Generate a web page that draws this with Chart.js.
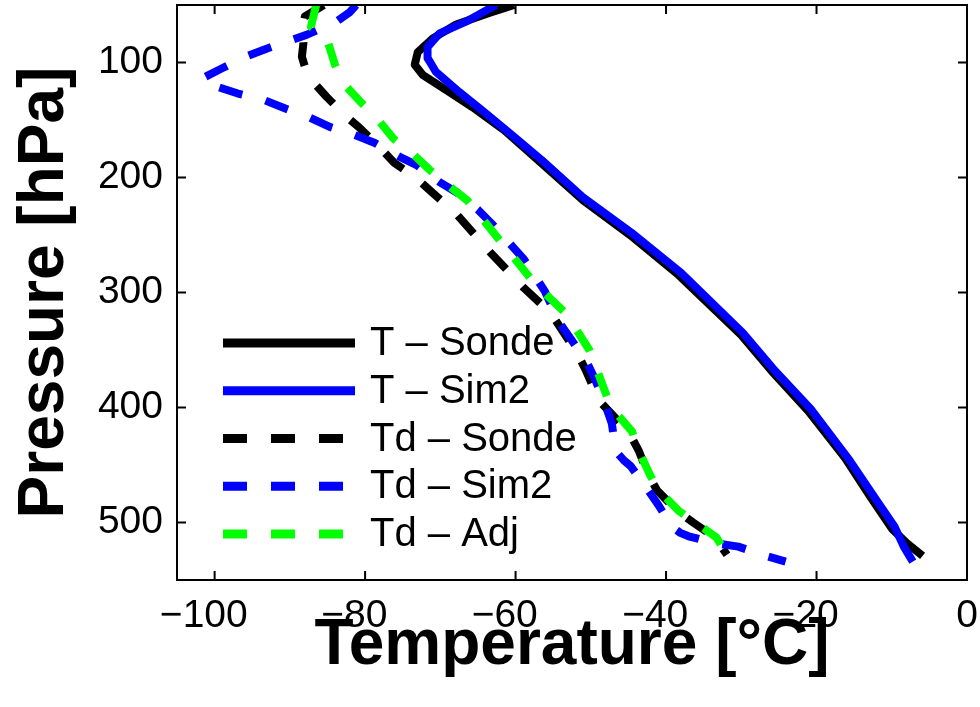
<!DOCTYPE html>
<html>
<head>
<meta charset="utf-8">
<script src="https://cdn.jsdelivr.net/npm/chart.js@4.4.1/dist/chart.umd.min.js"></script>
<style>
html, body { margin: 0; padding: 0; background: #fff; }
</style>
</head>
<body>
<canvas id="c" width="980" height="707"></canvas>
<script>
// T - Sonde
var tSondeP = [50, 57, 67, 79, 91, 102, 111, 124, 139, 159, 185, 220, 250, 285, 337, 368, 403, 444, 478, 506, 518, 529];
var tSondeT = [-60.2, -63.5, -67.9, -71.0, -73.0, -73.4, -72.3, -69.2, -65.7, -61.5, -57.0, -51.0, -44.8, -38.3, -30.0, -26.0, -21.1, -16.2, -12.8, -9.9, -8.0, -5.9];
// T - Sim2
var tSimP = [50, 64.5, 74.7, 86.5, 96, 108, 125.6, 144, 165.7, 185, 217, 248, 283, 335, 366, 401, 446, 478, 504, 521, 534];
var tSimT = [-62.6, -66.6, -70.1, -71.7, -71.7, -70.6, -67.5, -64.0, -60.0, -56.5, -51.1, -44.6, -38.0, -29.8, -25.8, -20.8, -15.6, -12.3, -9.6, -8.4, -7.2];
// Td - Sonde
var tdSondeP = [50, 60, 70, 83, 95, 108, 117, 130, 147, 157, 173.5, 187.4, 200.4, 213.5, 230, 267, 296, 318, 353, 367, 394, 422, 438, 459, 472, 490, 500, 513, 528];
var tdSondeT = [-85.5, -88.0, -88.3, -88.2, -88.4, -87.8, -86.9, -85.1, -82.5, -80.7, -78.1, -76.1, -73.2, -71.0, -68.1, -63.1, -58.9, -55.3, -51.8, -50.7, -48.9, -44.9, -43.6, -42.3, -41.2, -38.5, -36.4, -33.5, -31.9];
// Td - Sim2
var tdSimP = [50, 56, 64.5, 76, 80, 88, 95, 105, 114, 121, 127, 133, 140, 148, 156, 163, 170, 182, 189, 204, 213.5, 228, 240, 271, 299, 326, 340, 361, 376, 399, 414, 438, 446, 451, 469, 485, 504, 509, 512, 518, 521, 529, 534];
var tdSimT = [-81.2, -82.0, -83.8, -87.8, -89.6, -93.1, -95.9, -99.0, -101.7, -99.7, -96.9, -93.3, -90.6, -87.3, -84.7, -81.4, -78.7, -75.4, -73.2, -70.1, -67.7, -65.0, -63.2, -58.9, -56.1, -54.2, -52.7, -50.5, -49.4, -48.0, -47.2, -46.7, -45.6, -44.7, -42.7, -41.0, -39.2, -38.1, -37.0, -33.5, -30.4, -26.7, -24.1];
// Td - Adj
var tdAdjP = [50, 69, 79, 102, 118, 135, 148, 165.7, 178, 193.5, 205, 220, 232.6, 258, 292.6, 317, 324, 350, 360, 388, 399, 421, 434, 459, 472, 490, 500, 513, 526, 530];
var tdAdjT = [-86.5, -87.2, -85.1, -84.0, -82.9, -80.5, -78.5, -76.3, -73.9, -71.4, -69.3, -66.4, -64.8, -61.7, -57.4, -53.5, -52.7, -50.2, -49.6, -48.0, -47.4, -44.5, -43.9, -42.1, -41.0, -38.3, -36.1, -33.3, -32.1, -32.2];

var labels = ['T \u2013 Sonde', 'T \u2013 Sim2', 'Td \u2013 Sonde', 'Td \u2013 Sim2', 'Td \u2013 Adj'];
var xTicks = [-100, -80, -60, -40, -20, 0];
var yTicks = [100, 200, 300, 400, 500];

var FONT = '"Liberation Sans", Arial, Helvetica, sans-serif';

function pts(t, p) {
    var out = [];
    for (var i = 0; i < t.length; i++) out.push({ x: t[i], y: p[i] });
    return out;
}

function series(label, t, p, color, dashed, order) {
    return {
        label: label,
        data: pts(t, p),
        showLine: true,
        borderColor: color,
        backgroundColor: color,
        borderWidth: 8,
        borderDash: dashed ? [24, 24] : [],
        borderCapStyle: 'butt',
        borderJoinStyle: 'round',
        pointRadius: 0,
        tension: 0,
        clip: 0,
        order: order
    };
}

// box, inward ticks and the legend inside the axes
var boxPlugin = {
    id: 'box',
    afterDatasetsDraw: function(chart) {
        var ctx = chart.ctx, a = chart.chartArea;
        var xs = chart.scales.x, ys = chart.scales.y;
        ctx.save();
        ctx.setLineDash([]);
        ctx.strokeStyle = '#000';
        ctx.lineWidth = 2;
        ctx.beginPath();
        xs.ticks.forEach(function(t) {
            var px = xs.getPixelForValue(t.value);
            ctx.moveTo(px, a.bottom); ctx.lineTo(px, a.bottom - 9);
            ctx.moveTo(px, a.top); ctx.lineTo(px, a.top + 9);
        });
        ys.ticks.forEach(function(t) {
            var py = ys.getPixelForValue(t.value);
            ctx.moveTo(a.left, py); ctx.lineTo(a.left + 9, py);
            ctx.moveTo(a.right, py); ctx.lineTo(a.right - 9, py);
        });
        ctx.stroke();
        ctx.strokeRect(a.left, a.top, a.right - a.left, a.bottom - a.top);

        // legend
        var x0 = a.left + 46, x1 = a.left + 178, tx = a.left + 193;
        var y0 = a.bottom - 237, dy = 47.75;
        ctx.font = '40px ' + FONT;
        ctx.textBaseline = 'middle';
        ctx.textAlign = 'left';
        chart.data.datasets.forEach(function(ds, i) {
            var y = y0 + i * dy;
            ctx.beginPath();
            ctx.setLineDash(ds.borderDash);
            ctx.lineCap = 'butt';
            ctx.strokeStyle = ds.borderColor;
            ctx.lineWidth = 9;
            ctx.moveTo(x0, y); ctx.lineTo(x1, y);
            ctx.stroke();
            ctx.setLineDash([]);
            ctx.fillStyle = '#000';
            ctx.fillText(ds.label, tx, y + 1);
        });
        ctx.restore();
    }
};

var chart = new Chart(document.getElementById('c').getContext('2d'), {
    type: 'scatter',
    data: {
        datasets: [
            series(labels[0], tSondeT, tSondeP, '#000000', false, 4),
            series(labels[1], tSimT, tSimP, '#0000ff', false, 3),
            series(labels[2], tdSondeT, tdSondeP, '#000000', true, 2),
            series(labels[3], tdSimT, tdSimP, '#0000ff', true, 1),
            series(labels[4], tdAdjT, tdAdjP, '#00ff00', true, 0)
        ]
    },
    options: {
        responsive: false,
        animation: false,
        layout: { padding: { left: 0, top: 5, right: 13, bottom: 0 } },
        plugins: { legend: { display: false }, tooltip: { enabled: false } },
        scales: {
            x: {
                type: 'linear',
                min: -105,
                max: 0,
                afterBuildTicks: function(s) { s.ticks = xTicks.map(function(v) { return { value: v }; }); },
                afterFit: function(s) {
                    s.height = 127;
                    s.paddingLeft = 0; s.paddingRight = 0;
                },
                grid: { display: false, drawTicks: false },
                border: { display: false },
                ticks: {
                    color: '#000',
                    font: { size: 39, family: FONT },
                    padding: 13,
                    maxRotation: 0,
                    autoSkip: false,
                    // minus hangs to the left of the centred digits
                    callback: function(v) { return v < 0 ? '\u2212' + Math.abs(v) + '\u2007' : String(v); }
                },
                title: {
                    display: true,
                    text: 'Temperature [°C]',
                    color: '#000',
                    font: { size: 64, weight: 'bold', family: FONT, lineHeight: 1 },
                    padding: { top: 0, bottom: 29 }
                }
            },
            y: {
                type: 'linear',
                reverse: true,
                min: 50,
                max: 550,
                afterBuildTicks: function(s) { s.ticks = yTicks.map(function(v) { return { value: v }; }); },
                afterFit: function(s) {
                    s.width = 177;
                    s.paddingTop = 0; s.paddingBottom = 0;
                },
                grid: { display: false, drawTicks: false },
                border: { display: false },
                ticks: {
                    color: '#000',
                    font: { size: 39, family: FONT },
                    padding: 14,
                    autoSkip: false
                },
                title: {
                    display: true,
                    text: 'Pressure [hPa]',
                    color: '#000',
                    font: { size: 64, weight: 'bold', family: FONT, lineHeight: 1 },
                    padding: { top: 13, bottom: 0 }
                }
            }
        }
    },
    plugins: [boxPlugin]
});
</script>
</body>
</html>
